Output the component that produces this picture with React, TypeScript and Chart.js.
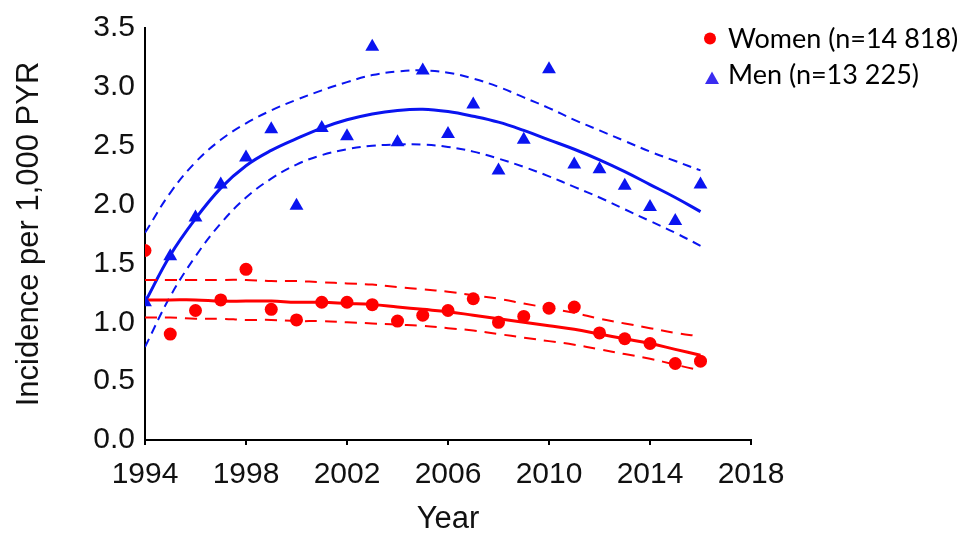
import { useEffect, useRef } from "react";
import { Chart, registerables } from "chart.js";
Chart.register(...registerables);

const years = [1994, 1995, 1996, 1997, 1998, 1999, 2000, 2001, 2002, 2003, 2004, 2005, 2006, 2007, 2008, 2009, 2010, 2011, 2012, 2013, 2014, 2015, 2016];
const women = [1.61, 0.90, 1.10, 1.19, 1.45, 1.11, 1.02, 1.17, 1.17, 1.15, 1.01, 1.06, 1.10, 1.20, 1.00, 1.05, 1.12, 1.13, 0.91, 0.86, 0.82, 0.65, 0.67];
const men = [1.17, 1.56, 1.89, 2.17, 2.40, 2.64, 1.99, 2.65, 2.58, 3.34, 2.53, 3.14, 2.60, 2.85, 2.29, 2.55, 3.15, 2.34, 2.30, 2.16, 1.98, 1.86, 2.17];

const menFit = [1.17, 1.57, 1.88, 2.14, 2.33, 2.46, 2.56, 2.65, 2.72, 2.77, 2.80, 2.81, 2.79, 2.75, 2.70, 2.63, 2.55, 2.47, 2.38, 2.28, 2.17, 2.06, 1.94];
const menUpper = [1.76, 2.10, 2.36, 2.55, 2.69, 2.80, 2.89, 2.97, 3.04, 3.10, 3.13, 3.14, 3.12, 3.07, 3.00, 2.91, 2.82, 2.72, 2.63, 2.54, 2.45, 2.37, 2.29];
const menLower = [0.79, 1.22, 1.56, 1.84, 2.06, 2.22, 2.34, 2.42, 2.47, 2.50, 2.51, 2.51, 2.49, 2.45, 2.39, 2.32, 2.24, 2.15, 2.06, 1.96, 1.86, 1.76, 1.65];
const womenFit = [1.19, 1.19, 1.19, 1.18, 1.18, 1.18, 1.17, 1.17, 1.16, 1.15, 1.13, 1.11, 1.09, 1.06, 1.03, 1.00, 0.97, 0.94, 0.90, 0.86, 0.82, 0.77, 0.72];
const womenUpper = [1.36, 1.36, 1.36, 1.36, 1.36, 1.35, 1.35, 1.34, 1.33, 1.32, 1.30, 1.28, 1.26, 1.23, 1.20, 1.16, 1.12, 1.08, 1.03, 0.99, 0.95, 0.91, 0.88];
const womenLower = [1.04, 1.04, 1.03, 1.03, 1.02, 1.02, 1.01, 1.01, 1.00, 0.99, 0.98, 0.97, 0.95, 0.93, 0.90, 0.87, 0.84, 0.81, 0.77, 0.73, 0.69, 0.64, 0.59];

const legendLabels = ["Women (n=14 818)", "Men (n=13 225)"];
const xTicks = [1994, 1998, 2002, 2006, 2010, 2014, 2018];

const RED = "#ff0000";
const BLUE = "#0a14f0";

export default function App() {
  const ref = useRef<HTMLCanvasElement>(null);
  useEffect(() => {
    document.body.style.margin = "0";
    const pts = (xs: number[], ys: number[]) => xs.map((x, i) => ({ x, y: ys[i] }));
    const line = (data: number[], color: string, dashed: boolean, dash: number[]) => ({
      data: pts(years, data),
      showLine: true,
      borderColor: color,
      borderWidth: dashed ? 2 : 3,
      borderDash: dashed ? dash : [],
      pointRadius: 0,
      tension: 0.4,
      fill: false,
    });
    const legendPlugin = {
      id: "customLegend",
      afterDraw(chart: any) {
        const ctx = chart.ctx as CanvasRenderingContext2D;
        ctx.save();
        ctx.fillStyle = RED;
        ctx.beginPath();
        ctx.arc(710, 38.5, 6, 0, Math.PI * 2);
        ctx.fill();
        ctx.fillStyle = "#3a2cf0";
        ctx.beginPath();
        ctx.moveTo(712, 71.5);
        ctx.lineTo(719, 84);
        ctx.lineTo(705, 84);
        ctx.closePath();
        ctx.fill();
        ctx.fillStyle = "#000";
        ctx.font = "27px Lato";
        ctx.textBaseline = "alphabetic";
        ctx.textAlign = "left";
        ctx.fillText(legendLabels[0], 728, 47.5);
        ctx.fillText(legendLabels[1], 728, 83.5);
        ctx.restore();
      },
    };
    const chart = new Chart(ref.current!, {
      type: "scatter",
      data: {
        datasets: [
          { data: pts(years, women), backgroundColor: RED, borderColor: RED, pointStyle: "circle", pointRadius: 6.5, borderWidth: 0 },
          { data: pts(years, men), backgroundColor: BLUE, borderColor: BLUE, pointStyle: "triangle", pointRadius: 8, borderWidth: 0 },
          line(womenFit, RED, false, []),
          line(womenUpper, RED, true, [12, 8]),
          line(womenLower, RED, true, [12, 8]),
          line(menFit, BLUE, false, []),
          line(menUpper, BLUE, true, [9, 6]),
          line(menLower, BLUE, true, [9, 6]),
        ] as any,
      },
      options: {
        animation: false,
        responsive: false,
        devicePixelRatio: 1,
        layout: { padding: { top: 24, right: 212, left: 0, bottom: 0 } },
        plugins: { legend: { display: false }, tooltip: { enabled: false } },
        scales: {
          x: {
            type: "linear",
            min: 1994,
            max: 2018,
            afterFit: (s: any) => { s.height = 95; },
            afterBuildTicks: (s: any) => { s.ticks = xTicks.map((v) => ({ value: v })); },
            grid: { display: true, drawOnChartArea: false, drawTicks: true, tickLength: 5, color: "#000", lineWidth: 2 },
            border: { display: true, color: "#000", width: 2 },
            ticks: { color: "#111", font: { family: "Liberation Sans", size: 30 }, padding: 12, maxRotation: 0, callback: (v: any) => String(v) },
            title: { display: true, text: "Year", color: "#111", font: { family: "Liberation Sans", size: 31 }, padding: { top: 0, bottom: -3 } },
          },
          y: {
            min: 0,
            max: 3.5,
            afterFit: (s: any) => { s.width = 145; },
            grid: { display: false, drawTicks: false },
            border: { display: true, color: "#000", width: 2 },
            ticks: { stepSize: 0.5, color: "#111", font: { family: "Liberation Sans", size: 30 }, padding: 10, callback: (v: any) => Number(v).toFixed(1) },
            title: { display: true, text: "Incidence per 1,000 PYR", color: "#111", font: { family: "Liberation Sans", size: 31 }, padding: { top: 11, bottom: 0 } },
          },
        },
      },
      plugins: [legendPlugin],
    });
    return () => chart.destroy();
  }, []);
  return (
    <div style={{ width: 963, height: 535 }}>
      <canvas ref={ref} width={963} height={535} style={{ display: "block" }} />
    </div>
  );
}
